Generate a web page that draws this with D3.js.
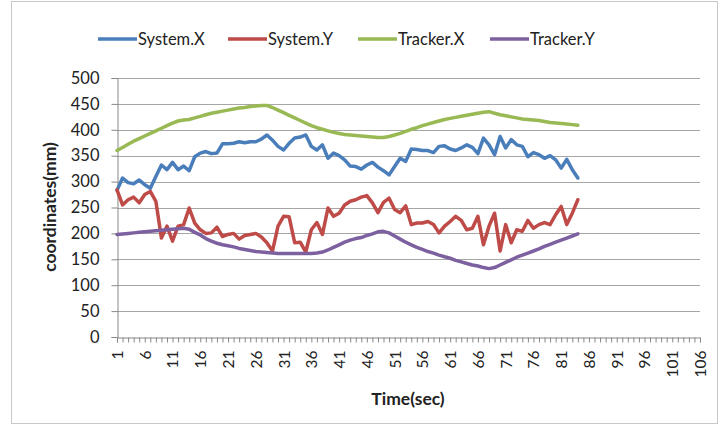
<!DOCTYPE html>
<html><head><meta charset="utf-8">
<script src="https://cdn.jsdelivr.net/npm/d3@7"></script>
<style>html,body{margin:0;padding:0;background:#fff;}svg{display:block;}</style>
</head><body>
<svg id="chart" width="728" height="429"></svg>
<script>
const seriesNames = ["System.X", "System.Y", "Tracker.X", "Tracker.Y"];
const seriesColors = ["#4a7ebb", "#be4b48", "#98b954", "#7d60a0"];
const categories = d3.range(1, 107);
const yTicks = [0, 50, 100, 150, 200, 250, 300, 350, 400, 450, 500];
const xTickLabels = [1, 6, 11, 16, 21, 26, 31, 36, 41, 46, 51, 56, 61, 66, 71, 76, 81, 86, 91, 96, 101, 106];

const systemX = [283,307,298,296,303,294,287,310,332,323,
  337,323,330,321,348,355,358,354,355,373,
  373,374,377,375,377,377,382,390,380,368,
  361,374,384,386,390,368,361,371,345,355,
  350,342,330,329,324,332,337,328,321,313,
  329,345,339,363,362,360,360,356,368,369,
  363,360,365,371,366,354,384,371,352,387,
  365,381,371,368,348,356,352,345,350,342,
  326,343,323,307];
const systemY = [284,255,265,270,259,275,281,262,191,214,
  185,214,217,249,220,207,200,201,212,194,
  198,200,189,196,198,200,193,182,166,214,
  233,232,182,183,164,207,221,198,249,233,
  239,255,262,265,270,273,259,240,260,268,
  246,240,253,217,220,220,223,217,201,214,
  223,233,225,207,210,233,178,214,239,166,
  217,182,207,204,225,210,217,221,217,236,
  252,217,239,265];
const trackerX = [360,366,372,378,383,388,393,398,403,408,
  413,417,419,420,423,426,429,432,434,436,
  438,440,442,443,445,446,447,447,443,438,
  433,428,423,418,413,408,404,401,398,395,
  393,391,390,389,388,387,386,385,385,387,
  390,393,397,401,404,408,411,414,417,420,
  422,424,426,428,430,432,434,435,432,429,
  427,425,423,421,420,419,418,416,414,413,
  412,411,410,409];
const trackerY = [198,199,200,201,202,203,204,205,206,207,
  208,209,210,208,202,197,190,185,181,178,
  176,174,171,169,167,165,164,163,162,161,
  161,161,161,161,161,161,162,164,168,173,
  178,183,187,190,192,196,199,203,204,201,
  195,189,183,178,173,169,165,162,158,155,
  152,148,145,142,139,137,134,132,134,139,
  144,149,154,158,162,166,170,175,179,183,
  187,191,195,199];

const seriesData = [systemX, systemY, trackerX, trackerY];

const svg = d3.select("#chart");
const font = "Lato, 'Open Sans', sans-serif";

// outer chart border
svg.append("rect").attr("x", 11.5).attr("y", 1.5).attr("width", 706).attr("height", 422)
  .attr("fill", "none").attr("stroke", "#c8c8c8").attr("stroke-width", 1);

const x = d3.scalePoint().domain(categories).range([117, 700]);
const y = d3.scaleLinear().domain([0, 500]).range([337, 78]);

// gridlines
svg.append("g").selectAll("line").data(yTicks.filter(d => d > 0)).join("line")
  .attr("x1", 117).attr("x2", 700)
  .attr("y1", d => Math.round(y(d)) + 0.5).attr("y2", d => Math.round(y(d)) + 0.5)
  .attr("stroke", "#a6a6a6").attr("stroke-width", 1);

// y axis
const yAxis = svg.append("g").attr("transform", "translate(117.5,0)")
  .call(d3.axisLeft(y).tickValues(yTicks).tickSize(6).tickPadding(12));
yAxis.select(".domain").attr("stroke", "#888");
yAxis.selectAll(".tick line").attr("stroke", "#888");
yAxis.selectAll(".tick text").attr("font-family", font).attr("font-size", 16.5).attr("fill", "#222");

// x axis
const xAxis = svg.append("g").attr("transform", "translate(0,337.5)")
  .call(d3.axisBottom(x).tickValues(categories).tickSize(5).tickFormat(d => xTickLabels.includes(d) ? d : ""));
xAxis.select(".domain").attr("stroke", "#888");
xAxis.selectAll(".tick line").attr("stroke", "#888");
xAxis.selectAll(".tick text")
  .attr("font-family", font).attr("font-size", 15.5).attr("fill", "#222")
  .attr("transform", "rotate(-90)")
  .attr("text-anchor", "end")
  .attr("x", -13).attr("y", 0).attr("dy", "0.35em");

// lines
const line = d3.line().x((d, i) => x(categories[i])).y(d => y(d));
svg.append("g").selectAll("path").data(seriesData).join("path")
  .attr("d", d => line(d))
  .attr("fill", "none")
  .attr("stroke", (d, i) => seriesColors[i])
  .attr("stroke-width", 3.5)
  .attr("stroke-linejoin", "round")
  .attr("stroke-linecap", "round");

// axis titles
svg.append("text").attr("x", 408).attr("y", 405).attr("text-anchor", "middle")
  .attr("font-family", font).attr("font-size", 17.5).attr("font-weight", "bold").attr("fill", "#222")
  .text("Time(sec)");
svg.append("text").attr("transform", "translate(56,207) rotate(-90)").attr("text-anchor", "middle")
  .attr("font-family", font).attr("font-size", 17.5).attr("font-weight", "bold").attr("fill", "#222")
  .text("coordinates(mm)");

// legend
const legendX = [98, 228, 358, 490];
const lg = svg.append("g").selectAll("g").data(seriesNames).join("g")
  .attr("transform", (d, i) => `translate(${legendX[i]},39)`);
lg.append("line").attr("x1", 0).attr("x2", 39).attr("y1", 0).attr("y2", 0)
  .attr("stroke", (d, i) => seriesColors[i]).attr("stroke-width", 3.5);
lg.append("text").attr("x", 40).attr("y", 0).attr("dy", "0.35em")
  .attr("font-family", font).attr("font-size", 16.5).attr("fill", "#222")
  .text(d => d);
</script>
</body></html>
